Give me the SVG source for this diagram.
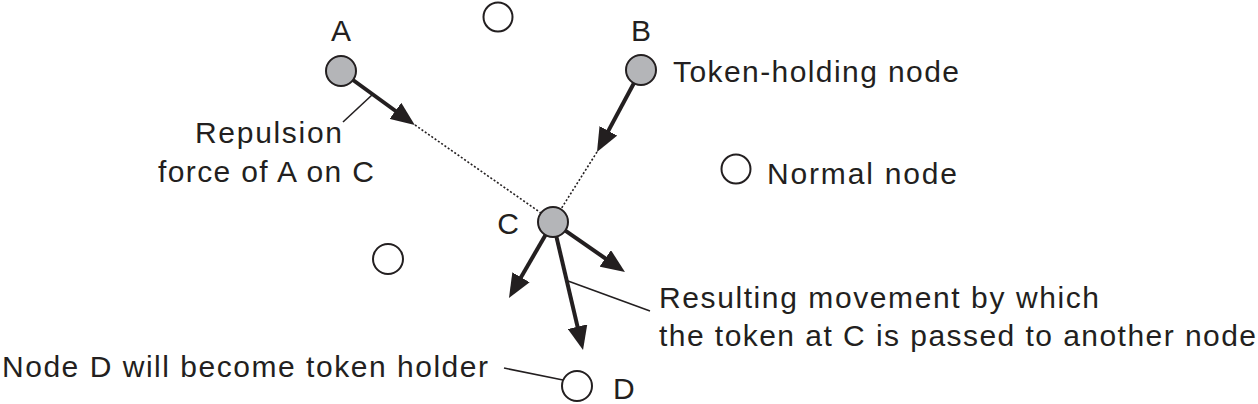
<svg xmlns="http://www.w3.org/2000/svg" width="1258" height="404" viewBox="0 0 1258 404">
<style>
  text { font-family: "Liberation Sans", Arial, sans-serif; font-size: 30px; fill: #231f20; }
  .holder { fill: #b4b5b8; stroke: #231f20; stroke-width: 2; }
  .normal { fill: #ffffff; stroke: #231f20; stroke-width: 2; }
  .force { stroke: #231f20; stroke-width: 4; fill: none; marker-end: url(#ah); }
  .dot { stroke: #231f20; stroke-width: 1.6; stroke-dasharray: 2 2; fill: none; }
  .lead { stroke: #231f20; stroke-width: 1.6; fill: none; }
</style>
<defs>
  <marker id="ah" viewBox="0 -10 24 20" markerWidth="24" markerHeight="20" refX="2" refY="0" orient="auto" markerUnits="userSpaceOnUse">
    <path d="M0,-10 L24,0 L0,10 z" fill="#231f20"/>
  </marker>
</defs>
<rect width="1258" height="404" fill="#ffffff"/>

<g id="connectors">
  <line class="dot" x1="415" y1="125" x2="541" y2="213"/>
  <line class="dot" x1="597" y1="152" x2="561" y2="209"/>
  <line class="force" x1="353" y1="80" x2="397" y2="112"/>
  <line class="force" x1="634" y1="83" x2="607.4" y2="132.6"/>
  <line class="force" x1="545.5" y1="235" x2="520" y2="279"/>
  <line class="force" x1="565.3" y1="230.6" x2="606.9" y2="259.5"/>
  <line class="force" x1="556.4" y1="236.6" x2="578" y2="328.6"/>
  <line class="lead" x1="343" y1="122" x2="372" y2="95"/>
  <line class="lead" x1="568" y1="281" x2="650" y2="311"/>
  <line class="lead" x1="504" y1="368" x2="563" y2="380"/>
</g>

<g id="node-A">
  <circle class="holder" cx="341" cy="71" r="15"/>
  <text x="341" y="41" text-anchor="middle">A</text>
</g>
<g id="node-B">
  <circle class="holder" cx="641" cy="70" r="15"/>
  <text x="641" y="41" text-anchor="middle">B</text>
</g>
<g id="node-C">
  <circle class="holder" cx="553" cy="222" r="15"/>
  <text x="508" y="234" text-anchor="middle">C</text>
</g>
<g id="node-D">
  <circle class="normal" cx="577" cy="386" r="15"/>
  <text x="613" y="399">D</text>
</g>
<g id="node-top">
  <circle class="normal" cx="498" cy="17" r="14.5"/>
</g>
<g id="node-left">
  <circle class="normal" cx="388" cy="259" r="15"/>
</g>
<g id="legend-normal">
  <circle class="normal" cx="736" cy="169" r="14.5"/>
  <text x="767" y="184" textLength="190" lengthAdjust="spacing">Normal node</text>
</g>
<g id="legend-holder">
  <text x="673" y="82" textLength="286" lengthAdjust="spacing">Token-holding node</text>
</g>
<g id="label-repulsion">
  <text x="195" y="143" textLength="147" lengthAdjust="spacing">Repulsion</text>
  <text x="158" y="182" textLength="216" lengthAdjust="spacing">force of A on C</text>
</g>
<g id="label-result">
  <text x="659" y="308" textLength="440" lengthAdjust="spacing">Resulting movement by which</text>
  <text x="659" y="346" textLength="597" lengthAdjust="spacing">the token at C is passed to another node</text>
</g>
<g id="label-D">
  <text x="2" y="377" textLength="486" lengthAdjust="spacing">Node D will become token holder</text>
</g>
</svg>
